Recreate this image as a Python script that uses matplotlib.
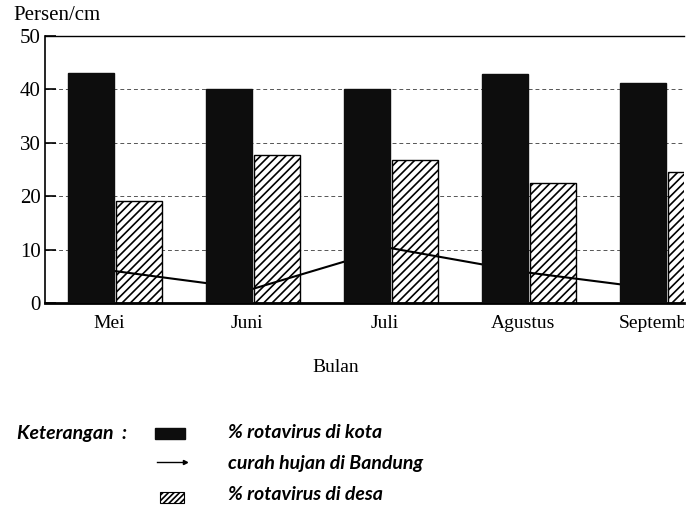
import numpy as np
import matplotlib
matplotlib.use('Agg')
import matplotlib.pyplot as plt
from matplotlib.patches import Rectangle
from matplotlib.lines import Line2D
from matplotlib.transforms import Bbox, TransformedBbox

months = ["Mei", "Juni", "Juli", "Agustus", "September"]
kota = [43.1, 40.1, 40.1, 42.9, 41.2]     # % rotavirus di kota
desa = [19.1, 27.7, 26.8, 22.5, 24.5]     # % rotavirus di desa
hujan = [6.0, 2.6, 10.3, 5.7, 2.4]        # curah hujan di Bandung
yticks = [0, 10, 20, 30, 40, 50]

plt.rcParams['font.family'] = ['Liberation Serif', 'DejaVu Serif']
plt.rcParams['hatch.linewidth'] = 1.2

W, H = 696, 512
fig = plt.figure(figsize=(W / 100, H / 100), dpi=100)
ax = fig.add_axes([45 / W, 1 - 303 / H, (684 - 45) / W, (303 - 36) / H])

x = np.arange(len(months))
width = 0.333

ax.bar(x, kota, width, color='#0d0d0d', edgecolor='#0d0d0d', zorder=4)
ax.bar(x + 0.345, desa, width, color='white', edgecolor='black',
       hatch='////', linewidth=1.0, zorder=2)
ax.plot(x + 0.167, hujan, color='black', lw=1.5, zorder=3)

ax.set_xlim(-0.333, 4.297)
ax.set_ylim(0, 50)
ax.set_yticks(yticks)
ax.grid(axis='y', color='#555555', linestyle=(0, (4, 3)), lw=0.7, zorder=0)

ax.set_xticks(x + 0.13, months, fontsize=14)
ax.tick_params(axis='x', length=0, pad=9)
ax.tick_params(axis='y', direction='in', length=8, width=1.2, pad=3, labelsize=15)

# the scan is cut off at the right, so the last label is clipped there
clip = TransformedBbox(Bbox.from_extents(0, 0, 684 / W, 1), fig.transFigure)
for lbl in ax.get_xticklabels():
    lbl.set_clip_box(clip)
    lbl.set_clip_on(True)

ax.spines['right'].set_visible(False)
ax.spines['bottom'].set_linewidth(2.0)
ax.spines['left'].set_linewidth(1.2)
ax.spines['top'].set_linewidth(1.0)

fig.text(13 / W, 1 - 16 / H, "Persen/cm", fontsize=15, va='center', ha='left')
fig.text(336 / W, 1 - 367 / H, "Bulan", fontsize=14, va='center', ha='center')

# legend (Keterangan)
lfont = dict(family=['Lato', 'DejaVu Sans'], style='italic',
             weight='bold', fontsize=14, va='center', ha='left')
fig.text(17 / W, 1 - 433 / H, "Keterangan  :", **lfont)
fig.patches.append(Rectangle((155 / W, 1 - 439 / H), 30 / W, 11 / H,
                             transform=fig.transFigure, facecolor='#0d0d0d',
                             edgecolor='#0d0d0d'))
fig.lines.append(Line2D([157 / W, 185 / W], [1 - 462 / H, 1 - 462 / H],
                        transform=fig.transFigure, color='black', lw=1.0,
                        marker='>', markersize=3, markevery=[1]))
fig.patches.append(Rectangle((160 / W, 1 - 503 / H), 24 / W, 11 / H,
                             transform=fig.transFigure, facecolor='white',
                             edgecolor='black', hatch='//////', lw=0.8))
fig.text(228 / W, 1 - 433 / H, "% rotavirus di kota", **lfont)
fig.text(228 / W, 1 - 463 / H, "curah hujan di Bandung", **lfont)
fig.text(228 / W, 1 - 495 / H, "% rotavirus di desa", **lfont)

fig.savefig("out.png", dpi=100)
